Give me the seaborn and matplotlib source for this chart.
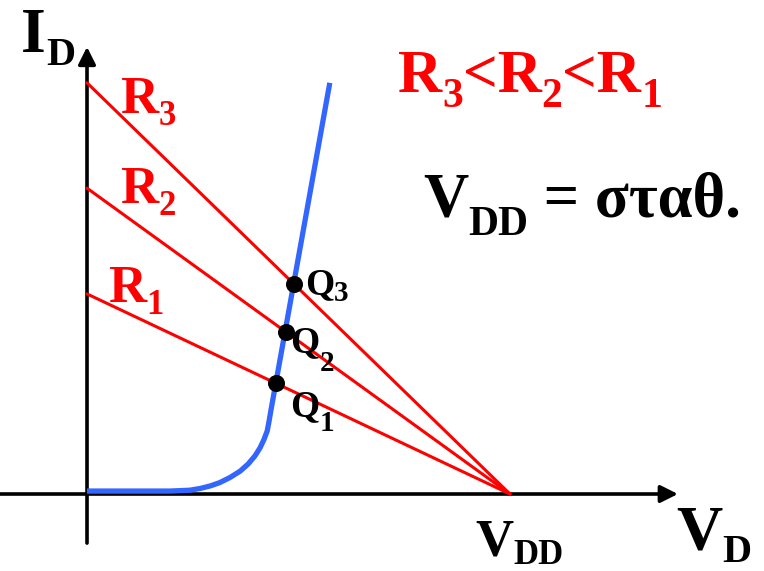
import matplotlib
matplotlib.use("Agg")
import matplotlib.pyplot as plt
import numpy as np
import pandas as pd
import seaborn as sns

# Supply voltage and load-line current intercepts (I = VDD / R)
VDD = 10.0
load_names = ["R1", "R2", "R3"]
load_intercepts = [4.73, 7.23, 9.72]

# Diode I-V characteristic (knee then near-linear rise)
diode_v = [0.00, 1.96, 2.20, 2.43, 2.67, 2.91, 3.14, 3.38, 3.62, 3.81,
           3.97, 4.09, 4.18, 4.26, 4.30, 4.35, 5.74]
diode_i = [0.07, 0.07, 0.08, 0.09, 0.13, 0.19, 0.27, 0.39, 0.54, 0.71,
           0.90, 1.09, 1.28, 1.49, 1.70, 1.99, 9.72]

# Operating-point voltages, one per load line
q_names = ["Q1", "Q2", "Q3"]
q_voltages = [4.47, 4.70, 4.89]

sns.set_theme(style="white")
plt.rcParams["font.family"] = ["Liberation Serif", "DejaVu Serif"]
plt.rcParams["font.weight"] = "bold"

RED = "#ff0000"
BLUE = "#3366ff"

fig = plt.figure(figsize=(7.64, 5.71), dpi=100)
ax = fig.add_axes([0, 0, 1, 1])
ax.set_xlim(-2.057, 16.005)
ax.set_ylim(-1.820, 11.678)
ax.axis("off")


def draw_runs(x, y, runs, color="black", anchor="data"):
    """Write text runs left to right; each run is (text, size, baseline shift in pt)."""
    first, size, shift = runs[0]
    prev = ax.annotate(first, xy=(x, y), xycoords=anchor, xytext=(0, shift),
                       textcoords="offset points", fontsize=size, color=color,
                       fontweight="bold", ha="left", va="baseline", zorder=5)
    base_y = y
    for text, size, shift in runs[1:]:
        prev = ax.annotate(text, xy=(1, base_y), xycoords=(prev, "data"),
                           xytext=(0, shift), textcoords="offset points",
                           fontsize=size, color=color, fontweight="bold",
                           ha="left", va="baseline", zorder=5)
    return prev


# Axes with arrow heads
arrow = dict(arrowstyle="-|>", lw=2.6, color="black", mutation_scale=26,
             shrinkA=0, shrinkB=0)
ax.annotate("", xy=(13.97, 0), xytext=(-2.06, 0), arrowprops=arrow, zorder=1)
ax.annotate("", xy=(0, 10.57), xytext=(0, -1.16), arrowprops=arrow, zorder=1)

# Load lines from the current intercept down to VDD
for name, i0 in zip(load_names, load_intercepts):
    sns.lineplot(x=[0.0, VDD], y=[i0, 0.0], ax=ax, color=RED, lw=2.2,
                 sort=False, estimator=None, zorder=2)

# Diode characteristic
sns.lineplot(x=diode_v, y=diode_i, ax=ax, color=BLUE, lw=3.8,
             sort=False, estimator=None, zorder=3, solid_capstyle="butt")

# Operating points on each load line
q_currents = [i0 * (1 - v / VDD) for v, i0 in zip(q_voltages, load_intercepts)]
sns.scatterplot(x=q_voltages, y=q_currents, ax=ax, color="black", s=150,
                edgecolor="black", linewidth=0, zorder=4)

# Q labels placed just right of / below each point
q_label_pos = [(4.80, 1.84), (4.80, 3.36), (5.15, 4.73)]
q_sub_drop = [-11, -14, -5]
for name, (x, y), drop in zip(q_names, q_label_pos, q_sub_drop):
    draw_runs(x, y, [(name[0], 27, 0), (name[1], 21, drop)])

# Load-line labels
r_label_pos = [(0.50, 4.54), (0.78, 6.88), (0.78, 9.01)]
for name, (x, y) in zip(load_names, r_label_pos):
    draw_runs(x, y, [(name[0], 38, 0), (name[1], 25, -9)], color=RED)

# Axis labels
draw_runs(-1.56, 10.45, [("I", 46, 0), ("D", 29, -9.5)])
draw_runs(13.93, -1.32, [("V", 46, 0), ("D", 29, -9)])
draw_runs(9.17, -1.45, [("V", 38, 0), ("DD", 25, -6)])

# Annotations
draw_runs(7.35, 9.50, [("R", 44, 0), ("3", 30, -11), ("<R", 44, 0),
                       ("2", 30, -11), ("<R", 44, 0), ("1", 30, -11)],
          color=RED)
draw_runs(7.94, 6.55, [("V", 45, 0), ("DD", 30, -13), (" = σταθ.", 45, 0)])

fig.savefig("out.png", dpi=100)
